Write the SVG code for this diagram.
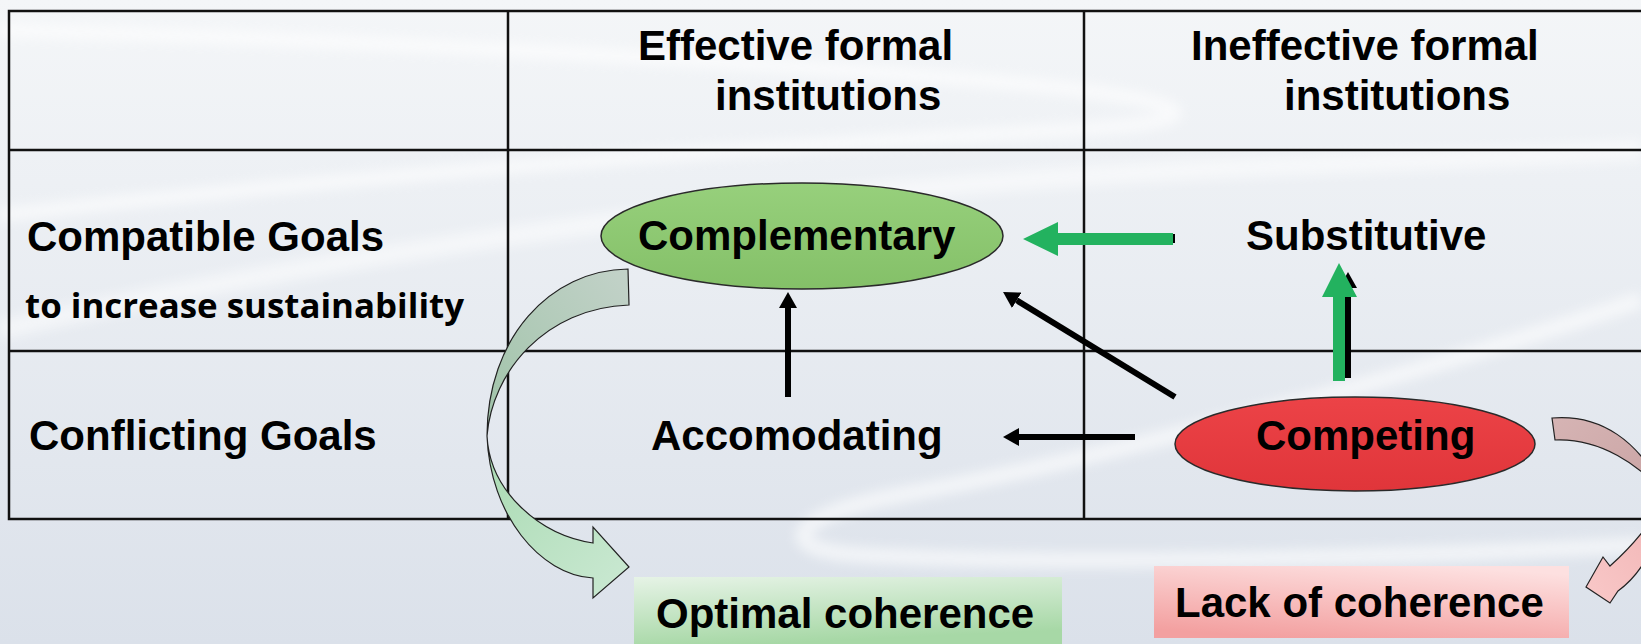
<svg xmlns="http://www.w3.org/2000/svg" width="1641" height="644" viewBox="0 0 1641 644">
<defs>
<linearGradient id="bg" x1="0" y1="0" x2="0" y2="1">
<stop offset="0" stop-color="#f4f6f8"/>
<stop offset="1" stop-color="#dbe1ea"/>
</linearGradient>
<linearGradient id="gEll" x1="0" y1="0" x2="0" y2="1">
<stop offset="0" stop-color="#97d07c"/>
<stop offset="1" stop-color="#84c068"/>
</linearGradient>
<linearGradient id="rEll" x1="0" y1="0" x2="0" y2="1">
<stop offset="0" stop-color="#ec4347"/>
<stop offset="1" stop-color="#e0353a"/>
</linearGradient>
<linearGradient id="gBox" x1="0" y1="0" x2="0.3" y2="1">
<stop offset="0" stop-color="#e6f3e6"/>
<stop offset="1" stop-color="#a7d8a6"/>
</linearGradient>
<linearGradient id="pBox" x1="0.7" y1="0" x2="0.3" y2="1">
<stop offset="0" stop-color="#fde0e0"/>
<stop offset="1" stop-color="#f3a0a0"/>
</linearGradient>
<linearGradient id="gBack" x1="0" y1="1" x2="1" y2="0">
<stop offset="0" stop-color="#9fc3a8"/>
<stop offset="1" stop-color="#c3d2c9"/>
</linearGradient>
<linearGradient id="gFront" x1="0" y1="0" x2="1" y2="1">
<stop offset="0" stop-color="#a9dab2"/>
<stop offset="1" stop-color="#cbe9d3"/>
</linearGradient>
<linearGradient id="pBack" x1="0" y1="0" x2="1" y2="1">
<stop offset="0" stop-color="#d6b4b4"/>
<stop offset="1" stop-color="#c9a3a3"/>
</linearGradient>
<linearGradient id="pFront" x1="1" y1="0" x2="0" y2="1">
<stop offset="0" stop-color="#f0b4b4"/>
<stop offset="1" stop-color="#f9c8c8"/>
</linearGradient>
<filter id="soft" x="-10%" y="-50%" width="120%" height="200%">
<feGaussianBlur stdDeviation="6"/>
</filter>
<marker id="ah" viewBox="0 0 16 18" refX="0" refY="9" markerWidth="16" markerHeight="18" markerUnits="userSpaceOnUse" orient="auto">
<path d="M0,0 L16,9 L0,18 z" fill="#000"/>
</marker>
<style>
.t{font-family:"Liberation Sans",Arial,sans-serif;font-weight:bold;font-size:42px;fill:#000}
.s{font-family:"Open Sans","Liberation Sans",sans-serif;font-weight:bold;font-size:34px;fill:#000}
.grid{stroke:#111;stroke-width:2.5;fill:none}
.blk{stroke:#000;stroke-width:6;fill:none;marker-end:url(#ah)}
.grn{fill:#23b25f}
.swoosh{fill:none;stroke:#ffffff;filter:url(#soft)}
.curve{stroke:#222;stroke-width:1.2}
</style>
</defs>

<g id="background">
<rect x="0" y="0" width="1641" height="644" fill="url(#bg)"/>
<path class="swoosh" d="M0,30 C300,38 650,55 950,78 C1180,95 1240,118 1100,128 C900,140 500,160 0,215" stroke-width="14" opacity="0.6"/>
<path class="swoosh" d="M0,330 C300,260 700,200 1100,175 C1350,160 1500,160 1641,150" stroke-width="20" opacity="0.5"/>
<path class="swoosh" d="M1641,300 C1400,380 1100,460 900,495 C790,515 770,550 860,555 C1050,565 1350,560 1641,545" stroke-width="16" opacity="0.6"/>
</g>

<g id="table">
<path class="grid" d="M1641,11 H9 V519 H1641 M9,150 H1641 M9,351 H1641 M508,11 V519 M1084,11 V519"/>
</g>

<g id="header-effective">
<text class="t" x="638" y="60">Effective formal</text>
<text class="t" x="715" y="110">institutions</text>
</g>
<g id="header-ineffective">
<text class="t" x="1191" y="60">Ineffective formal</text>
<text class="t" x="1284" y="110">institutions</text>
</g>
<g id="row-compatible">
<text class="t" x="27" y="251">Compatible Goals</text>
<text class="s" x="25" y="318" textLength="439" lengthAdjust="spacingAndGlyphs">to increase sustainability</text>
</g>
<g id="row-conflicting">
<text class="t" x="29" y="450">Conflicting Goals</text>
</g>

<g id="connectors">
<line class="blk" x1="1175" y1="238.5" x2="1040" y2="238.5" style="stroke-width:9;marker-end:none"/>
<line class="blk" x1="1348" y1="378" x2="1348" y2="288"/>
<line class="blk" x1="788" y1="397" x2="788" y2="308"/>
<line class="blk" x1="1175" y1="397" x2="1016.7" y2="300.3"/>
<line class="blk" x1="1135" y1="437" x2="1019" y2="437"/>
<polygon class="grn" points="1023,239 1058,222 1058,233 1173,233 1173,245 1058,245 1058,256"/>
<polygon class="grn" points="1339,263 1357,297 1345,297 1345,381 1333,381 1333,297 1322,297"/>
<g id="curve-green">
<path class="curve" fill="url(#gBack)" d="M628,269 C550,270 487,338 487,436 C492,372 545,308 629,305 Z"/>
<path class="curve" fill="url(#gFront)" d="M487,436 C490,515 540,575 593,578 L593,598 L629,567 L593,527 L593,543 C540,535 490,492 487,436 Z"/>
</g>
<g id="curve-pink">
<path class="curve" fill="url(#pBack)" d="M1552,418 C1600,414 1640,440 1665,495 C1640,465 1600,438 1555,440 Z"/>
<path class="curve" fill="url(#pFront)" d="M1665,495 C1660,545 1640,575 1618,591 L1610,603 L1586,587 L1603,557 L1610,566 C1630,548 1652,525 1665,495 Z"/>
</g>
</g>

<g id="node-complementary">
<ellipse cx="802" cy="236" rx="201" ry="53" fill="url(#gEll)" stroke="#2a2a2a" stroke-width="1.5"/>
<text class="t" x="638" y="250">Complementary</text>
</g>
<g id="node-substitutive">
<text class="t" x="1246" y="250">Substitutive</text>
</g>
<g id="node-accomodating">
<text class="t" x="651" y="450">Accomodating</text>
</g>
<g id="node-competing">
<ellipse cx="1355" cy="444" rx="180" ry="47" fill="url(#rEll)" stroke="#2a2a2a" stroke-width="1.5"/>
<text class="t" x="1256" y="450">Competing</text>
</g>
<g id="node-optimal">
<rect x="634" y="577" width="428" height="67" fill="url(#gBox)"/>
<text class="t" x="656" y="628">Optimal coherence</text>
</g>
<g id="node-lack">
<rect x="1154" y="566" width="415" height="72" fill="url(#pBox)"/>
<text class="t" x="1175" y="617">Lack of coherence</text>
</g>
</svg>
